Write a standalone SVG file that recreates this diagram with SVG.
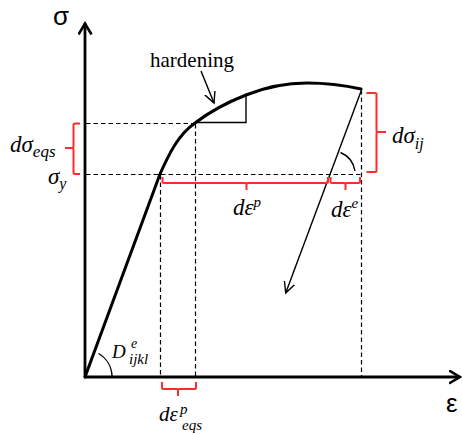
<svg xmlns="http://www.w3.org/2000/svg" width="462" height="435" viewBox="0 0 462 435">
<style>
.ax{stroke:#000;stroke-width:2.8;fill:none}
.crv{stroke:#000;stroke-width:3;fill:none;stroke-linecap:round}
.thin{stroke:#000;stroke-width:1.4;fill:none}
.dash{stroke:#000;stroke-width:1.2;fill:none;stroke-dasharray:4.5 3}
.br{stroke:#ff2a2a;stroke-width:2;fill:none;stroke-linejoin:round}
.lbl{font-family:"Liberation Serif",serif;font-style:italic;fill:#000}
.axl{font-family:"Liberation Sans",sans-serif;fill:#000}
</style>
<defs>
<marker id="axh" markerUnits="userSpaceOnUse" markerWidth="20" markerHeight="20" refX="11" refY="7" orient="auto">
<path d="M0,0.5 L11,7 L0,13.5" fill="none" stroke="#000" stroke-width="2.6"/>
</marker>
<marker id="ah" markerUnits="userSpaceOnUse" markerWidth="16" markerHeight="16" refX="11" refY="6" orient="auto">
<path d="M0,0.5 L11,6 L0,11.5" fill="none" stroke="#000" stroke-width="1.4"/>
</marker>
</defs>
<g id="axes">
<line class="ax" x1="85" y1="377" x2="85" y2="23.5" marker-end="url(#axh)"/>
<line class="ax" x1="84" y1="377" x2="460" y2="377" marker-end="url(#axh)"/>
<text class="axl" x="53" y="25" font-size="26">σ</text>
<text class="axl" x="446" y="412" font-size="26">ε</text>
</g>
<g id="guides">
<line class="dash" x1="86" y1="123.5" x2="195" y2="123.5"/>
<line class="dash" x1="86" y1="174.5" x2="362" y2="174.5"/>
<line class="dash" x1="160.5" y1="175" x2="160.5" y2="376"/>
<line class="dash" x1="195.5" y1="124" x2="195.5" y2="376"/>
<line class="dash" x1="361.5" y1="90" x2="361.5" y2="376"/>
</g>
<g id="curve">
<path class="crv" d="M85,377 L160,174 C169,154 178,135 195,123 C212,110 228,102 246,95 C266,87 286,83 307,83 C325,83 343,85 361,89"/>
<path class="thin" d="M195,122.5 L246,122.5 L246,95"/>
<path class="thin" d="M361.5,90 L285.7,293" marker-end="url(#ah)"/>
<path class="thin" d="M98.5,353.5 A27,27 0 0 1 112,376"/>
<path class="thin" d="M340.5,152.5 A24,24 0 0 1 355,171"/>
</g>
<g id="hardening">
<line class="thin" x1="201" y1="71" x2="214" y2="103" marker-end="url(#ah)"/>
<text x="150" y="67" font-family="Liberation Serif,serif" font-size="21">hardening</text>
</g>
<g id="braces">
<path class="br" d="M80,123.5 L75,123.5 Q73.5,123.5 73.5,125 L73.5,146.5 Q73.5,148 72,148 L65,148 M72,148 Q73.5,148 73.5,149.5 L73.5,172.5 Q73.5,174 75,174 L80,174"/>
<path class="br" d="M366.5,93 L375,93 Q376.5,93 376.5,94.5 L376.5,130.5 Q376.5,132 378,132 L386,132 M378,132 Q376.5,132 376.5,133.5 L376.5,170.5 Q376.5,172 375,172 L366.5,172"/>
<path class="br" d="M162.5,177 L162.5,181.5 Q162.5,183 164,183 L245,183 Q246.5,183 246.5,184.5 L246.5,190 M246.5,184.5 Q246.5,183 248,183 L326.5,183 Q328,183 328,181.5 L328,177"/>
<path class="br" d="M330.5,177 L330.5,181.5 Q330.5,183 332,183 L344,183 Q345.5,183 345.5,184.5 L345.5,190 M345.5,184.5 Q345.5,183 347,183 L358.5,183 Q360,183 360,181.5 L360,177"/>
<path class="br" d="M162,382 L162,387.5 Q162,389 163.5,389 L176.5,389 Q178,389 178,390.5 L178,396 M178,390.5 Q178,389 179.5,389 L194.5,389 Q196,389 196,387.5 L196,382"/>
</g>
<g id="labels">
<text class="lbl" x="10" y="152" font-size="23">dσ<tspan font-size="17" dy="5">eqs</tspan></text>
<text class="lbl" x="48" y="184" font-size="23">σ<tspan font-size="16" dy="5">y</tspan></text>
<text class="lbl" x="392" y="143" font-size="23">dσ<tspan font-size="16" dy="6">ij</tspan></text>
<text class="lbl" x="233" y="215" font-size="23">dε<tspan font-size="15" dy="-8">p</tspan></text>
<text class="lbl" x="331" y="217" font-size="23">dε<tspan font-size="15" dy="-9">e</tspan></text>
<text class="lbl" x="112" y="358" font-size="19">D</text>
<text class="lbl" x="131" y="348" font-size="14">e</text>
<text class="lbl" x="129" y="364" font-size="15">ijkl</text>
<text class="lbl" x="159" y="421" font-size="21">dε</text>
<text class="lbl" x="180" y="414" font-size="15">p</text>
<text class="lbl" x="182" y="430" font-size="15">eqs</text>
</g>
</svg>
